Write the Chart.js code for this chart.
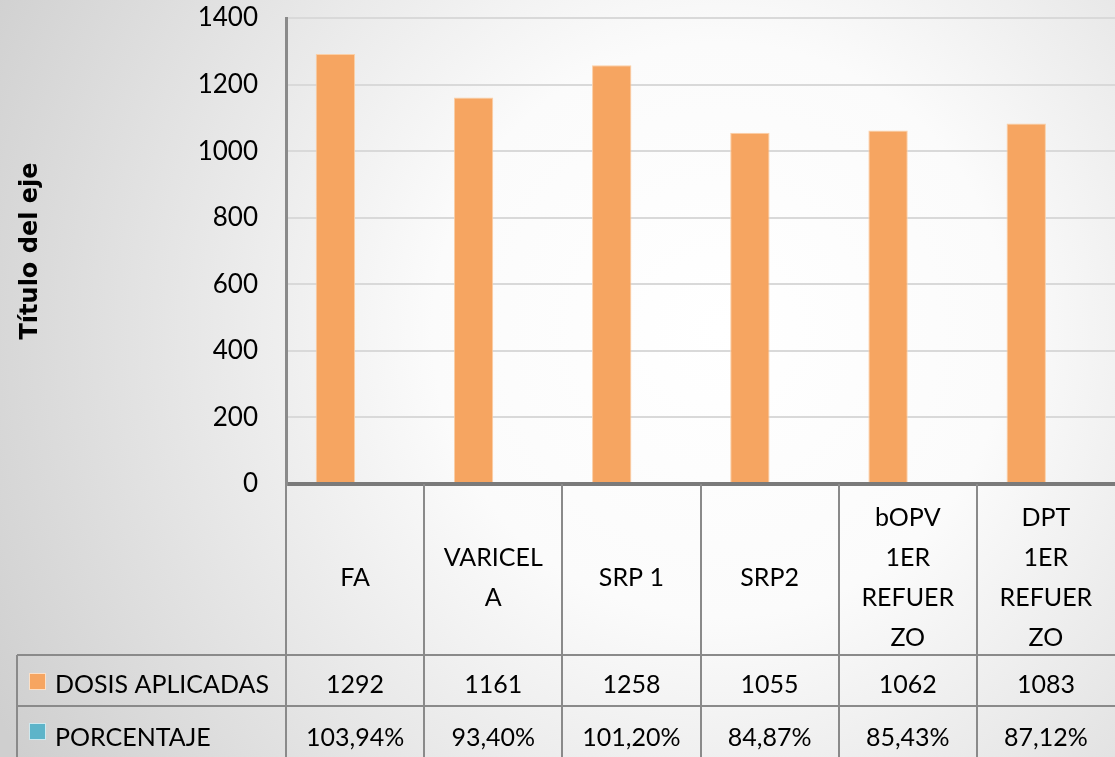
<!DOCTYPE html>
<html lang="es">
<head>
<meta charset="UTF-8">
<title>Dosis aplicadas</title>
<script src="https://cdn.jsdelivr.net/npm/chart.js"></script>
<style>
  html, body { margin: 0; padding: 0; }
  #wrap { position: relative; width: 1115px; height: 757px; }
</style>
</head>
<body>
<div id="wrap"><canvas id="grafico"></canvas></div>
<script>
// Datos
const categorias = [["FA"], ["VARICEL", "A"], ["SRP 1"], ["SRP2"], ["bOPV", "1ER", "REFUER", "ZO"], ["DPT", "1ER", "REFUER", "ZO"]];
const dosisAplicadas = [1292, 1161, 1258, 1055, 1062, 1083];
const porcentaje = [1.0394, 0.9340, 1.0120, 0.8487, 0.8543, 0.8712];
const yMax = 1400;
const yPaso = 200;

const fuente = "Lato, 'Open Sans', sans-serif";
const naranja = "#f6a561";
const celeste = "#5db4c9";

function formatoPct(v) {
    return (v * 100).toFixed(2).replace(".", ",") + "%";
}

// fondo degradado como en Excel
const fondo = {
    id: "fondo",
    beforeDraw(chart) {
        const ctx = chart.ctx;
        const g = ctx.createRadialGradient(720, 330, 0, 720, 330, 820);
        g.addColorStop(0, "#ffffff");
        g.addColorStop(0.35, "#fbfbfb");
        g.addColorStop(1, "#cfcfcf");
        ctx.save();
        ctx.fillStyle = g;
        ctx.fillRect(0, 0, chart.width, chart.height);
        ctx.restore();
    }
};

// tabla de datos debajo del grafico
const tabla = {
    id: "tabla",
    afterDraw(chart) {
        const ctx = chart.ctx;
        const x = chart.scales.x;
        const area = chart.chartArea;
        const ancho = (area.right - area.left) / categorias.length;
        const yHead = area.bottom;
        const yFila1 = 655, yFila2 = 706, yFin = chart.height;
        const xLeyenda = 17;

        ctx.save();
        ctx.strokeStyle = "#8a8a8a";
        ctx.lineWidth = 2;
        ctx.beginPath();
        // verticales de categorias
        for (let i = 0; i < categorias.length; i++) {
            const xl = Math.round(area.left + i * ancho);
            ctx.moveTo(xl, yHead);
            ctx.lineTo(xl, yFin);
        }
        ctx.moveTo(xLeyenda, yFila1);
        ctx.lineTo(xLeyenda, yFin);
        ctx.moveTo(xLeyenda, yFila1);
        ctx.lineTo(area.right, yFila1);
        ctx.moveTo(xLeyenda, yFila2);
        ctx.lineTo(area.right, yFila2);
        ctx.stroke();

        ctx.fillStyle = "#000";
        ctx.textAlign = "center";
        ctx.textBaseline = "middle";
        ctx.font = "25px " + fuente;
        categorias.forEach((lineas, i) => {
            const cx = x.getPixelForValue(i);
            const alto = 40;
            const y0 = 578 - (lineas.length - 1) * alto / 2;
            lineas.forEach((t, j) => ctx.fillText(t, cx, y0 + j * alto));
            ctx.fillText(String(dosisAplicadas[i]), cx, 685);
            ctx.fillText(formatoPct(porcentaje[i]), cx, 738);
        });

        // leyenda en la tabla
        ctx.textAlign = "left";
        ctx.fillStyle = naranja;
        ctx.fillRect(29, 673, 17, 17);
        ctx.fillStyle = celeste;
        ctx.fillRect(29, 723, 17, 17);
        ctx.strokeStyle = "#fbe0c8";
        ctx.lineWidth = 1;
        ctx.strokeRect(29.5, 673.5, 16, 16);
        ctx.strokeStyle = "#cfe9ef";
        ctx.strokeRect(29.5, 723.5, 16, 16);
        ctx.fillStyle = "#000";
        ctx.fillText("DOSIS APLICADAS", 55, 685);
        ctx.fillText("PORCENTAJE", 55, 738);
        ctx.restore();
    }
};

const ctx = document.getElementById("grafico").getContext("2d");
const chart = new Chart(ctx, {
    type: "bar",
    data: {
        labels: categorias,
        datasets: [
            {
                label: "DOSIS APLICADAS",
                data: dosisAplicadas,
                backgroundColor: naranja,
                borderColor: "#fbcfa6",
                borderWidth: 1
            },
            {
                label: "PORCENTAJE",
                data: porcentaje,
                backgroundColor: celeste,
                borderColor: "#a9dbe6",
                borderWidth: 1,
                minBarLength: 2
            }
        ]
    },
    options: {
        responsive: true,
        maintainAspectRatio: false,
        animation: false,
        layout: { padding: { top: 18, bottom: 273, left: 0, right: 0 } },
        categoryPercentage: 0.57,
        barPercentage: 1.0,
        plugins: {
            legend: { display: false },
            tooltip: { enabled: false }
        },
        scales: {
            x: { display: false },
            y: {
                min: 0,
                max: yMax,
                ticks: {
                    stepSize: yPaso,
                    color: "#000",
                    padding: 0,
                    font: { family: fuente, size: 26 },
                    callback: v => String(v)
                },
                grid: {
                    drawTicks: true,
                    tickLength: 28,
                    tickColor: "rgba(0,0,0,0)",
                    color: c => c.tick && c.tick.value === 0 ? "#7a7a7a" : "#d9d9d9",
                    lineWidth: c => c.tick && c.tick.value === 0 ? 4 : 2
                },
                border: { color: "#8a8a8a", width: 3 },
                title: {
                    display: true,
                    text: "Título del eje",
                    color: "#000",
                    font: { family: "'DejaVu Sans', sans-serif", size: 24, weight: "bold" },
                    padding: { top: 16, bottom: 0 }
                },
                afterFit(scale) { scale.width = 286; }
            }
        }
    },
    plugins: [fondo, tabla]
});
</script>
</body>
</html>
